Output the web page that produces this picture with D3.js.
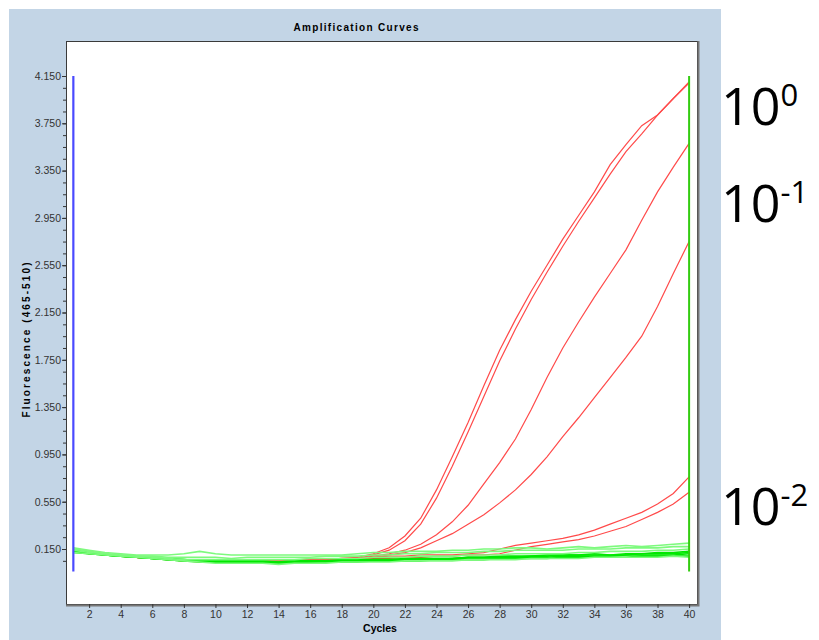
<!DOCTYPE html>
<html>
<head>
<meta charset="utf-8">
<script src="https://cdn.jsdelivr.net/npm/d3@7"></script>
<style>
  body { margin: 0; background: #fff; }
  svg { display: block; }
</style>
</head>
<body>
<div id="chart"></div>
<script>
// cycles 1..40
const cycles = d3.range(1, 41);

// positive samples (red)
const red10e0a = [0.14,0.12,0.11,0.09,0.08,0.07,0.06,0.05,0.05,0.05,0.04,0.05,0.05,0.04,0.05,0.05,0.06,0.07,0.08,0.11,
  0.16,0.26,0.41,0.65,0.93,1.22,1.53,1.83,2.09,2.33,2.55,2.77,2.97,3.17,3.40,3.57,3.73,3.82,3.96,4.10];
const red10e0b = [0.13,0.12,0.10,0.09,0.08,0.07,0.06,0.06,0.05,0.05,0.05,0.04,0.05,0.05,0.05,0.05,0.06,0.06,0.07,0.10,
  0.14,0.22,0.36,0.58,0.85,1.14,1.44,1.74,2.01,2.26,2.49,2.71,2.92,3.12,3.32,3.51,3.66,3.82,3.96,4.09];
const red10e1a = [0.15,0.13,0.11,0.09,0.08,0.07,0.06,0.05,0.05,0.05,0.04,0.05,0.04,0.04,0.05,0.05,0.05,0.06,0.07,0.09,
  0.11,0.14,0.19,0.27,0.38,0.52,0.70,0.88,1.08,1.33,1.60,1.85,2.07,2.28,2.48,2.68,2.93,3.17,3.38,3.58];
const red10e1b = [0.13,0.11,0.10,0.09,0.08,0.07,0.06,0.05,0.04,0.05,0.04,0.04,0.05,0.04,0.04,0.05,0.05,0.06,0.06,0.08,
  0.10,0.12,0.16,0.22,0.28,0.36,0.44,0.54,0.65,0.78,0.93,1.10,1.26,1.43,1.60,1.77,1.95,2.20,2.48,2.75];
const red10e2a = [0.14,0.12,0.11,0.09,0.08,0.07,0.06,0.06,0.05,0.05,0.05,0.05,0.05,0.05,0.06,0.06,0.06,0.07,0.07,0.08,
  0.09,0.09,0.10,0.10,0.10,0.11,0.12,0.15,0.18,0.20,0.22,0.24,0.27,0.31,0.36,0.41,0.46,0.53,0.62,0.76];
const red10e2b = [0.13,0.11,0.10,0.09,0.08,0.07,0.06,0.05,0.05,0.04,0.04,0.05,0.05,0.04,0.05,0.05,0.05,0.06,0.06,0.07,
  0.07,0.08,0.08,0.09,0.09,0.10,0.10,0.11,0.14,0.17,0.19,0.21,0.23,0.26,0.30,0.34,0.40,0.46,0.53,0.63];

// negative samples (green)
const green1 = [0.16,0.14,0.12,0.11,0.10,0.10,0.10,0.11,0.13,0.11,0.10,0.10,0.10,0.10,0.10,0.10,0.10,0.10,0.11,0.12,
  0.12,0.13,0.13,0.13,0.14,0.14,0.15,0.15,0.16,0.16,0.15,0.16,0.17,0.16,0.17,0.18,0.17,0.18,0.19,0.20];
const green2 = [0.15,0.13,0.11,0.10,0.09,0.09,0.08,0.08,0.08,0.08,0.07,0.08,0.08,0.08,0.08,0.08,0.09,0.09,0.09,0.10,
  0.10,0.11,0.11,0.12,0.12,0.12,0.13,0.13,0.14,0.14,0.14,0.14,0.15,0.15,0.15,0.16,0.16,0.16,0.17,0.17];
const green3 = [0.14,0.12,0.10,0.09,0.08,0.07,0.06,0.05,0.05,0.05,0.04,0.04,0.04,0.04,0.05,0.05,0.05,0.05,0.05,0.06,
  0.06,0.06,0.07,0.07,0.07,0.08,0.08,0.08,0.08,0.09,0.09,0.10,0.10,0.10,0.10,0.10,0.11,0.11,0.11,0.12];
const green4 = [0.13,0.11,0.10,0.09,0.08,0.07,0.06,0.06,0.05,0.05,0.05,0.05,0.05,0.04,0.05,0.05,0.05,0.06,0.06,0.06,
  0.06,0.07,0.07,0.07,0.07,0.08,0.08,0.09,0.09,0.09,0.10,0.10,0.10,0.11,0.10,0.11,0.11,0.12,0.12,0.13];
const green5 = [0.12,0.11,0.10,0.09,0.08,0.07,0.07,0.06,0.05,0.04,0.04,0.05,0.04,0.03,0.04,0.04,0.05,0.05,0.05,0.05,
  0.05,0.06,0.06,0.06,0.07,0.07,0.07,0.07,0.08,0.08,0.08,0.09,0.09,0.09,0.09,0.10,0.10,0.10,0.10,0.11];
const green6 = [0.14,0.12,0.11,0.10,0.09,0.08,0.07,0.06,0.06,0.06,0.06,0.06,0.06,0.06,0.06,0.07,0.07,0.07,0.07,0.08,
  0.08,0.08,0.09,0.09,0.09,0.10,0.10,0.10,0.11,0.11,0.11,0.11,0.12,0.12,0.13,0.13,0.13,0.14,0.14,0.15];
const green7 = [0.13,0.12,0.10,0.09,0.08,0.07,0.06,0.05,0.04,0.04,0.03,0.04,0.03,0.03,0.03,0.04,0.04,0.04,0.04,0.05,
  0.05,0.05,0.05,0.06,0.06,0.06,0.06,0.07,0.07,0.07,0.07,0.08,0.08,0.08,0.08,0.08,0.09,0.09,0.09,0.09];
const green8 = [0.12,0.11,0.10,0.09,0.08,0.07,0.06,0.05,0.04,0.03,0.03,0.03,0.03,0.02,0.03,0.03,0.03,0.04,0.04,0.04,
  0.04,0.05,0.05,0.05,0.05,0.06,0.06,0.06,0.06,0.07,0.07,0.07,0.07,0.08,0.08,0.08,0.08,0.08,0.09,0.08];

const redSeries = [red10e0a, red10e0b, red10e1a, red10e1b, red10e2a, red10e2b];
const greenSeries = [
  { values: green3, light: false }, { values: green4, light: false }, { values: green5, light: false },
  { values: green7, light: false }, { values: green8, light: true }, { values: green6, light: true },
  { values: green2, light: true }, { values: green1, light: true }
];

// tick labels
const yTickValues = [0.15, 0.55, 0.95, 1.35, 1.75, 2.15, 2.55, 2.95, 3.35, 3.75, 4.15];
const yMinorValues = d3.range(5, 416, 10).map(d => d / 100);
const xTickValues = [2,4,6,8,10,12,14,16,18,20,22,24,26,28,30,32,34,36,38,40];

// analysis window markers
const startCycle = 1, endCycle = 40;
const markerRange = [-0.04, 4.15];

// dilution labels
const dilutionLabels = [
  { exp: "0", y: 125 },
  { exp: "-1", y: 222 },
  { exp: "-2", y: 525 }
];

const W = 819, H = 640;
const plot = { left: 66, right: 697, top: 41, bottom: 604 };

const svg = d3.select('#chart').append('svg')
  .attr('width', W).attr('height', H);

// panel background
svg.append('rect').attr('x', 9).attr('y', 9).attr('width', 712).attr('height', H - 9)
  .attr('fill', '#c3d5e6');

// plot area
svg.append('rect')
  .attr('x', plot.left).attr('y', plot.top)
  .attr('width', plot.right - plot.left).attr('height', plot.bottom - plot.top)
  .attr('fill', '#fff');

const x = d3.scaleLinear().domain([0.535, 40.5]).range([plot.left, plot.right]);
const y = d3.scaleLinear().domain([-0.315, 4.446]).range([plot.bottom, plot.top]);

svg.append('clipPath').attr('id', 'clip').append('rect')
  .attr('x', plot.left).attr('y', plot.top)
  .attr('width', plot.right - plot.left).attr('height', plot.bottom - plot.top);

const g = svg.append('g').attr('clip-path', 'url(#clip)');

const line = d3.line()
  .x((d, i) => x(cycles[i]))
  .y(d => y(d));

// red curves
g.selectAll('path.red')
  .data(redSeries)
  .join('path')
  .attr('class', 'red')
  .attr('fill', 'none')
  .attr('stroke', '#ff4a4a')
  .attr('stroke-width', 1.2)
  .attr('d', line);

// green curves
g.selectAll('path.green')
  .data(greenSeries)
  .join('path')
  .attr('class', 'green')
  .attr('fill', 'none')
  .attr('stroke', d => d.light ? '#7dfa7d' : '#00e800')
  .attr('stroke-width', 1.6)
  .attr('d', d => line(d.values));

// start / end markers
g.append('line')
  .attr('x1', x(startCycle)).attr('x2', x(startCycle))
  .attr('y1', y(markerRange[0])).attr('y2', y(markerRange[1]))
  .attr('stroke', '#4a4aff').attr('stroke-width', 2.2);
g.append('line')
  .attr('x1', x(endCycle)).attr('x2', x(endCycle))
  .attr('y1', y(markerRange[0])).attr('y2', y(markerRange[1]))
  .attr('stroke', '#33cc11').attr('stroke-width', 2);

// frame
svg.append('rect')
  .attr('x', plot.left + 0.5).attr('y', plot.top + 0.5)
  .attr('width', plot.right - plot.left).attr('height', plot.bottom - plot.top)
  .attr('fill', 'none').attr('stroke', '#3a3a3a').attr('stroke-width', 1);
svg.append('path')
  .attr('d', `M${plot.right + 1.5},${plot.top} V${plot.bottom + 1.5} H${plot.left}`)
  .attr('fill', 'none').attr('stroke', '#777').attr('stroke-width', 2);

// y axis
const yAxis = svg.append('g')
  .attr('transform', `translate(${plot.left},0)`)
  .call(d3.axisLeft(y).tickValues(yTickValues).tickFormat(d3.format('.3f')).tickSize(4).tickPadding(1));
svg.append('g')
  .attr('transform', `translate(${plot.left},0)`)
  .call(d3.axisLeft(y).tickValues(yMinorValues).tickFormat('').tickSize(3))
  .call(s => s.select('.domain').remove());

// x axis
const xAxis = svg.append('g')
  .attr('transform', `translate(0,${plot.bottom})`)
  .call(d3.axisBottom(x).tickValues(xTickValues).tickSize(4).tickPadding(3));

[yAxis, xAxis].forEach(a => {
  a.select('.domain').remove();
  a.selectAll('text')
    .attr('font-family', 'Liberation Sans, Arial, sans-serif')
    .attr('font-size', '10.5px')
    .attr('fill', '#333');
});
svg.selectAll('g .tick line').attr('stroke', '#333');

// title
svg.append('text')
  .attr('x', 356).attr('y', 31)
  .attr('text-anchor', 'middle')
  .attr('font-family', 'Liberation Sans, Arial, sans-serif')
  .attr('font-size', '10px').attr('font-weight', 'bold')
  .attr('textLength', 125).attr('lengthAdjust', 'spacing')
  .text('Amplification Curves');

// axis titles
svg.append('text')
  .attr('transform', 'translate(30,340) rotate(-90)')
  .attr('text-anchor', 'middle')
  .attr('font-family', 'Liberation Sans, Arial, sans-serif')
  .attr('font-size', '10px').attr('font-weight', 'bold')
  .attr('textLength', 155).attr('lengthAdjust', 'spacing')
  .text('Fluorescence (465-510)');

svg.append('text')
  .attr('x', 380).attr('y', 632)
  .attr('text-anchor', 'middle')
  .attr('font-family', 'Liberation Sans, Arial, sans-serif')
  .attr('font-size', '10.5px').attr('font-weight', 'bold')
  .text('Cycles');

// dilution labels
const lab = svg.selectAll('text.dil')
  .data(dilutionLabels)
  .join('text')
  .attr('class', 'dil')
  .attr('x', 721)
  .attr('y', d => d.y)
  .attr('font-family', 'Open Sans, Liberation Sans, sans-serif')
  .attr('fill', '#000');
lab.append('tspan').attr('font-size', '52px').text('10');
lab.append('tspan').attr('font-size', '31px').attr('dy', -19).text(d => d.exp);
</script>
</body>
</html>
